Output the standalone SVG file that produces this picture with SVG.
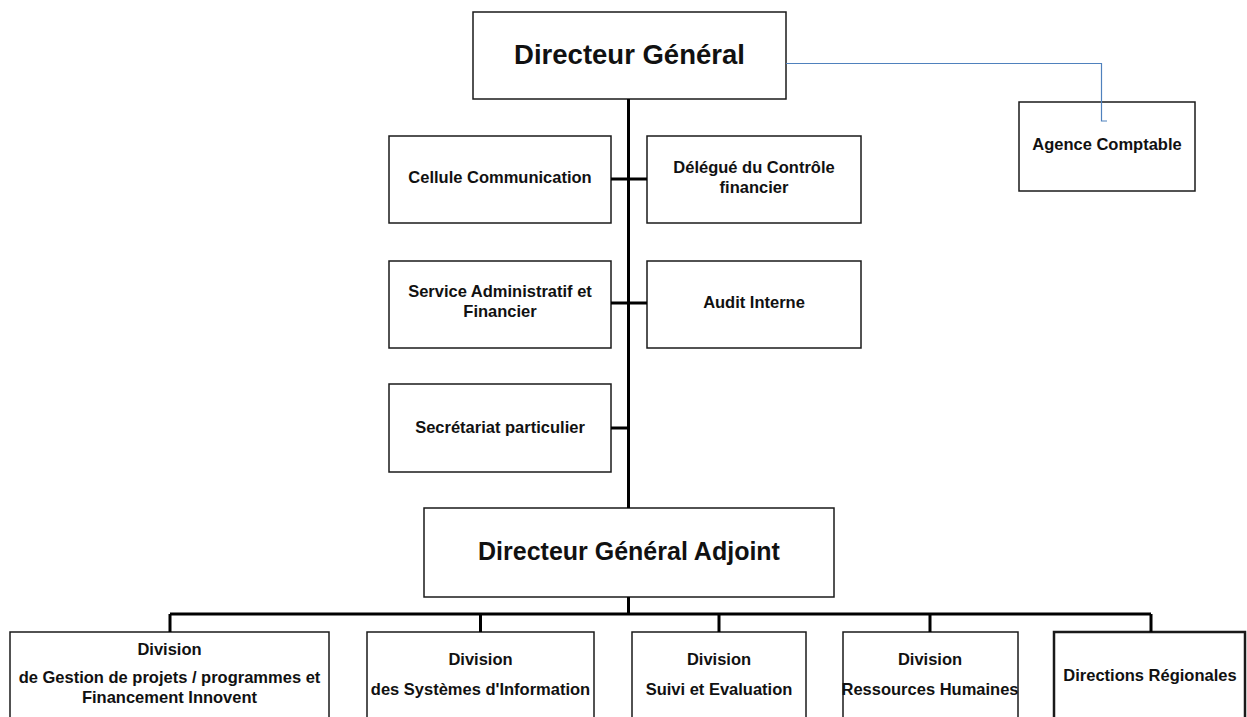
<svg xmlns="http://www.w3.org/2000/svg" width="1247" height="717" viewBox="0 0 1247 717">
<style>
.box{fill:#fff;stroke:#1a1a1a;stroke-width:1.5}
.thick{stroke-width:2.5}
.t{font-family:"Liberation Sans",Arial,sans-serif;font-weight:bold;fill:#111;text-anchor:middle;font-size:16.5px}
.big{font-size:27.5px}
.mid{font-size:25px}
.ln{stroke:#000;stroke-width:3;fill:none}
.blue{stroke:#4f81bd;stroke-width:1.2;fill:none}
</style>
<rect width="1247" height="717" fill="#fff"/>
<g id="dg"><rect class="box" x="473" y="12" width="313" height="87"/><text class="t big" x="629.5" y="64">Directeur Général</text></g>
<g id="agence"><rect class="box" x="1019" y="102" width="176" height="89"/><text class="t" x="1107" y="150">Agence Comptable</text></g>
<g id="cellule"><rect class="box" x="389" y="136" width="222" height="87"/><text class="t" x="500" y="183">Cellule Communication</text></g>
<g id="delegue"><rect class="box" x="647" y="136" width="214" height="87"/><text class="t" x="754" y="173">Délégué du Contrôle</text><text class="t" x="754" y="193">financier</text></g>
<g id="service"><rect class="box" x="389" y="261" width="222" height="87"/><text class="t" x="500" y="297">Service Administratif et</text><text class="t" x="500" y="317">Financier</text></g>
<g id="audit"><rect class="box" x="647" y="261" width="214" height="87"/><text class="t" x="754" y="308">Audit Interne</text></g>
<g id="secretariat"><rect class="box" x="389" y="384" width="222" height="88"/><text class="t" x="500" y="433">Secrétariat particulier</text></g>
<g id="dga"><rect class="box" x="424" y="508" width="410" height="89"/><text class="t mid" x="629" y="560">Directeur Général Adjoint</text></g>
<g id="div1"><rect class="box" x="10" y="632" width="319" height="100"/><text class="t" x="169.5" y="655">Division</text><text class="t" x="169.5" y="683">de Gestion de projets / programmes et</text><text class="t" x="169.5" y="703">Financement Innovent</text></g>
<g id="div2"><rect class="box" x="367" y="632" width="227" height="100"/><text class="t" x="480.5" y="665">Division</text><text class="t" x="480.5" y="695">des Systèmes d'Information</text></g>
<g id="div3"><rect class="box" x="632" y="632" width="174" height="100"/><text class="t" x="719" y="665">Division</text><text class="t" x="719" y="695">Suivi et Evaluation</text></g>
<g id="div4"><rect class="box" x="843" y="632" width="175" height="100"/><text class="t" x="930" y="665">Division</text><text class="t" x="930" y="695">Ressources Humaines</text></g>
<g id="dr"><rect class="box thick" x="1054" y="632" width="191" height="100"/><text class="t" x="1150" y="681">Directions Régionales</text></g>
<g id="connectors">
<path class="ln" d="M628.5,99 V508 M611,179 H647 M611,303 H647 M611,428 H628.5 M628.5,597 V614 M170,614 H1151 M170,614 V632 M480.5,614 V632 M719,614 V632 M930,614 V632 M1151,614 V632"/>
<path class="blue" d="M786,63.5 H1101.5 V121 H1107"/>
</g>
</svg>
